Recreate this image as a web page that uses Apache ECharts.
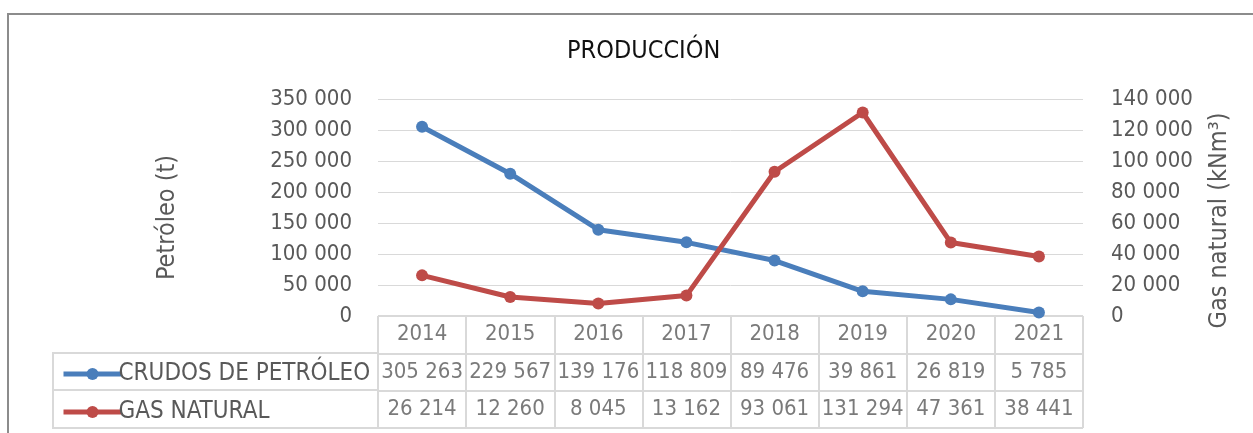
<!DOCTYPE html>
<html>
<head>
<meta charset="utf-8">
<style>
  html, body { margin: 0; padding: 0; background: #fff; }
  #main { width: 1253px; height: 433px; }
</style>
<script src="https://cdn.jsdelivr.net/npm/echarts@6/dist/echarts.min.js"></script>
</head>
<body>
<div id="main"></div>
<script>
// datos de producción
var years = ['2014', '2015', '2016', '2017', '2018', '2019', '2020', '2021'];
var petroleo = [305263, 229567, 139176, 118809, 89476, 39861, 26819, 5785];
var gas = [26214, 12260, 8045, 13162, 93061, 131294, 47361, 38441];
var seriesNames = ['CRUDOS DE PETRÓLEO', 'GAS NATURAL'];

var FONT = '"DejaVu Sans Condensed", "Liberation Sans", sans-serif';
var TXT = '#595959';
var LINEA = '#d9d9d9';
var AZUL = '#4a7ebb';
var ROJO = '#be4b48';

// separador de miles con espacio
function fmt(v) {
    return String(v).replace(/\B(?=(\d{3})+(?!\d))/g, ' ');
}

// celdas de la tabla: [columna, fila]
function cells(row) {
    return years.map(function (y, i) { return [i, row + 0.5]; });
}

var celdaLabel = function (texts) {
    return {
        show: true,
        position: 'inside',
        color: TXT,
        fontFamily: FONT,
        fontSize: 22,
        formatter: function (p) { return texts[p.dataIndex]; }
    };
};

var option = {
    animation: false,
    textStyle: { fontFamily: FONT },
    title: {
        text: 'PRODUCCIÓN',
        left: 562,
        top: 34,
        textStyle: { fontFamily: FONT, fontSize: 25, fontWeight: 'normal', color: '#111' }
    },
    legend: {
        orient: 'vertical',
        left: 56,
        top: 357,
        itemWidth: 58,
        itemHeight: 15,
        itemGap: 14,
        data: seriesNames,
        lineStyle: { width: 5 },
        textStyle: { fontFamily: FONT, fontSize: 24, color: TXT, lineHeight: 23, padding: [0, 0, 0, -8] }
    },
    graphic: [
        { type: 'rect', shape: { x: 8, y: 14, width: 1400, height: 600 }, style: { fill: 'none', stroke: '#8c8c8c', lineWidth: 2 }, silent: true },
        { type: 'rect', shape: { x: 53, y: 353, width: 325, height: 37 }, style: { fill: 'none', stroke: LINEA, lineWidth: 2 }, silent: true, z: -1 },
        { type: 'rect', shape: { x: 53, y: 390, width: 325, height: 38 }, style: { fill: 'none', stroke: LINEA, lineWidth: 2 }, silent: true, z: -1 }
    ],
    grid: [
        { left: 378, right: 170, top: 99, height: 217 },
        { left: 378, right: 170, top: 316, height: 112 }
    ],
    xAxis: [
        {
            type: 'category', gridIndex: 0, data: years, boundaryGap: true,
            axisLine: { show: false }, axisTick: { show: false }, axisLabel: { show: false }
        },
        {
            type: 'category', gridIndex: 1, data: years, boundaryGap: true,
            axisLine: { show: false }, axisTick: { show: false }, axisLabel: { show: false },
            splitLine: { show: true, lineStyle: { color: LINEA, width: 2 } }
        }
    ],
    yAxis: [
        {
            type: 'value', gridIndex: 0, min: 0, max: 350000, interval: 50000,
            name: 'Petróleo (t)', nameLocation: 'middle', nameGap: 198, nameRotate: 90,
            nameTextStyle: { fontFamily: FONT, fontSize: 25, color: TXT, padding: [0, 20, 0, 0] },
            axisLine: { show: false }, axisTick: { show: false },
            axisLabel: { margin: 26, color: TXT, fontFamily: FONT, fontSize: 22, formatter: fmt },
            splitLine: { lineStyle: { color: LINEA, width: 1 } }
        },
        {
            type: 'value', gridIndex: 0, min: 0, max: 140000, interval: 20000, position: 'right',
            name: 'Gas natural (kNm³)', nameLocation: 'middle', nameGap: 124, nameRotate: 90,
            nameTextStyle: { fontFamily: FONT, fontSize: 25, color: TXT, padding: [0, 26, 0, 0] },
            axisLine: { show: false }, axisTick: { show: false },
            axisLabel: { margin: 28, color: TXT, fontFamily: FONT, fontSize: 22, formatter: fmt },
            splitLine: { show: false }
        },
        {
            type: 'value', gridIndex: 1, min: 0, max: 3, interval: 1, inverse: true,
            axisLine: { show: false }, axisTick: { show: false }, axisLabel: { show: false },
            splitLine: { show: true, lineStyle: { color: LINEA, width: 2 } }
        }
    ],
    series: [
        {
            name: seriesNames[0], type: 'line', xAxisIndex: 0, yAxisIndex: 0,
            data: petroleo, symbol: 'circle', symbolSize: 12,
            itemStyle: { color: AZUL }, lineStyle: { color: AZUL, width: 5 }, z: 3
        },
        {
            name: seriesNames[1], type: 'line', xAxisIndex: 0, yAxisIndex: 1,
            data: gas, symbol: 'circle', symbolSize: 12,
            itemStyle: { color: ROJO }, lineStyle: { color: ROJO, width: 5 }, z: 4
        },
        {
            name: 'anios', type: 'scatter', xAxisIndex: 1, yAxisIndex: 2,
            data: cells(0), symbolSize: 0, label: celdaLabel(years), silent: true
        },
        {
            name: 'tabla1', type: 'scatter', xAxisIndex: 1, yAxisIndex: 2,
            data: cells(1), symbolSize: 0, label: celdaLabel(petroleo.map(fmt)), silent: true
        },
        {
            name: 'tabla2', type: 'scatter', xAxisIndex: 1, yAxisIndex: 2,
            data: cells(2), symbolSize: 0, label: celdaLabel(gas.map(fmt)), silent: true
        }
    ]
};

var myChart = echarts.init(document.getElementById('main'));
myChart.setOption(option);

window.addEventListener('resize', function () {
    myChart.resize();
});
</script>
</body>
</html>
